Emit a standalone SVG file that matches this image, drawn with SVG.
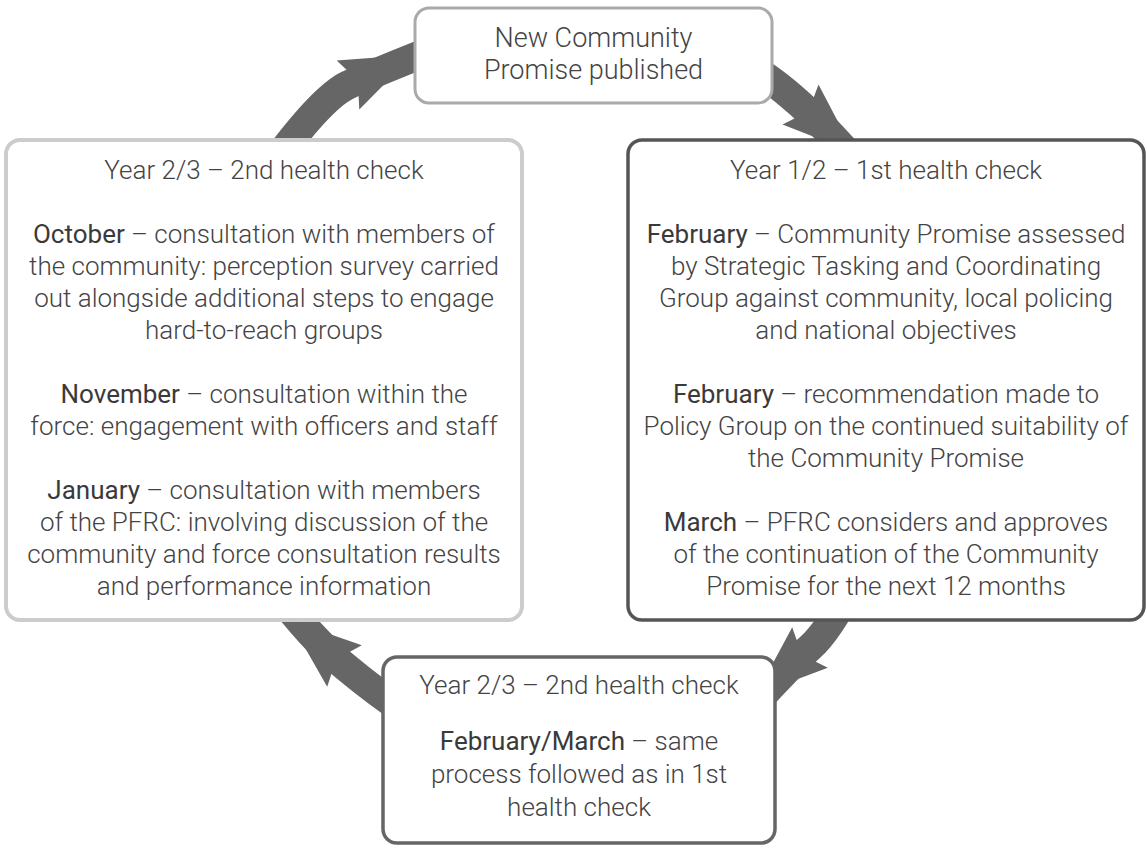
<svg xmlns="http://www.w3.org/2000/svg" width="1147" height="848" viewBox="0 0 1147 848">
<style>
.shaft{fill:none;stroke:#666;stroke-width:29;stroke-linecap:butt}
.head{fill:#666;stroke:none}
.box{fill:#fff}
text{font-family:Roboto,"Liberation Sans",Arial,sans-serif;font-size:26px;font-weight:300;fill:#444;text-anchor:middle}
.m{font-weight:400;fill:#3a3a3a}
.big{font-size:27px}
</style>
<rect width="1147" height="848" fill="#fff"/>
<g id="connectors">
<path class="shaft" d="M265,175 Q320.5,97.7 348,85 T445,45"/>
<polygon class="head" points="413.4,54.8 336.7,60.5 346.5,69.7 358.6,96.1 359.3,109.5"/>
<path class="shaft" d="M755,70 Q772.5,79.4 800.5,104.5 T880,190"/>
<polygon class="head" points="854.1,152.6 818.5,84.4 813.9,97.1 794.5,118.6 782.5,124.6"/>
<path class="shaft" d="M852,585 Q828.7,631 810,647.5 T740,720"/>
<polygon class="head" points="755.9,694.9 827.8,667.8 815.8,661.7 796.7,639.9 792.2,627.2"/>
<path class="shaft" d="M275,590 Q311.1,638.2 344.5,666 T410,715"/>
<polygon class="head" points="289.2,619.9 361.8,645.3 349.9,651.7 331.4,673.9 327.2,686.7"/>
</g>
<g id="node-top">
<rect class="box" x="415" y="8" width="357" height="95" rx="14" stroke="#aaa" stroke-width="3"/>
<text class="big" x="593.5" y="47">New Community</text>
<text class="big" x="593.5" y="79">Promise published</text>
</g>
<g id="node-left">
<rect class="box" x="6" y="140" width="516" height="480" rx="14" stroke="#ccc" stroke-width="4"/>
<text x="264" y="179">Year 2/3 – 2nd health check</text>
<text x="264" y="243"><tspan class="m">October</tspan> – consultation with members of</text>
<text x="264" y="275">the community: perception survey carried</text>
<text x="264" y="307">out alongside additional steps to engage</text>
<text x="264" y="339">hard-to-reach groups</text>
<text x="264" y="403"><tspan class="m">November</tspan> – consultation within the</text>
<text x="264" y="435">force: engagement with officers and staff</text>
<text x="264" y="499"><tspan class="m">January</tspan> – consultation with members</text>
<text x="264" y="531">of the PFRC: involving discussion of the</text>
<text x="264" y="563">community and force consultation results</text>
<text x="264" y="595">and performance information</text>
</g>
<g id="node-right">
<rect class="box" x="628" y="140" width="516" height="480" rx="14" stroke="#555" stroke-width="3.5"/>
<text x="886" y="179">Year 1/2 – 1st health check</text>
<text x="886" y="243"><tspan class="m">February</tspan> – Community Promise assessed</text>
<text x="886" y="275">by Strategic Tasking and Coordinating</text>
<text x="886" y="307">Group against community, local policing</text>
<text x="886" y="339">and national objectives</text>
<text x="886" y="403"><tspan class="m">February</tspan> – recommendation made to</text>
<text x="886" y="435">Policy Group on the continued suitability of</text>
<text x="886" y="467">the Community Promise</text>
<text x="886" y="531"><tspan class="m">March</tspan> – PFRC considers and approves</text>
<text x="886" y="563">of the continuation of the Community</text>
<text x="886" y="595">Promise for the next 12 months</text>
</g>
<g id="node-bottom">
<rect class="box" x="383" y="657" width="392" height="186" rx="14" stroke="#666" stroke-width="3.5"/>
<text x="579" y="694">Year 2/3 – 2nd health check</text>
<text x="579" y="750"><tspan class="m">February/March</tspan> – same</text>
<text x="579" y="783">process followed as in 1st</text>
<text x="579" y="816">health check</text>
</g>
</svg>
